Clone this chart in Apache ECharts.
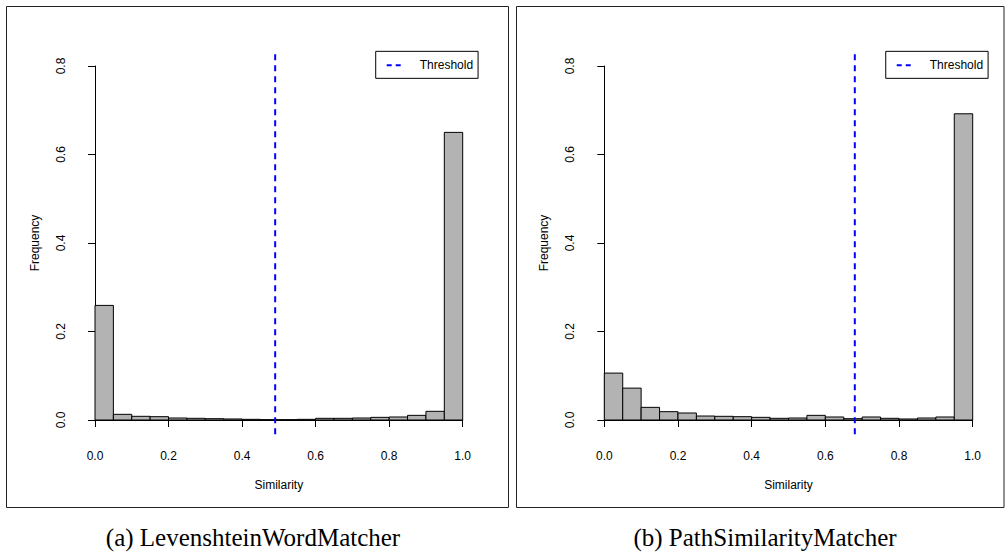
<!DOCTYPE html>
<html><head><meta charset="utf-8">
<script src="https://cdn.jsdelivr.net/npm/echarts@6/dist/echarts.min.js"></script>
<style>html,body{margin:0;padding:0;background:#fff}#c{width:1006px;height:553px}</style>
</head><body><div id="c"></div>
<script>
// Histogram bin edges (width 0.05)
const binEdges = [0.00,0.05,0.10,0.15,0.20,0.25,0.30,0.35,0.40,0.45,0.50,0.55,0.60,0.65,0.70,0.75,0.80,0.85,0.90,0.95,1.00];
// (a) LevenshteinWordMatcher relative frequencies
const levenshteinFreq = [0.259,0.0128,0.0083,0.0075,0.0045,0.0038,0.003,0.0023,0.0015,0.0008,0.0008,0.0015,0.0038,0.0038,0.0045,0.006,0.0068,0.0105,0.0196,0.650];
// (b) PathSimilarityMatcher relative frequencies
const pathSimFreq = [0.106,0.072,0.0286,0.0188,0.0158,0.009,0.0083,0.0075,0.006,0.0038,0.0045,0.0105,0.0068,0.003,0.0068,0.0038,0.0023,0.0045,0.0068,0.692];
// Threshold values
const thresholdA = 0.49;
const thresholdB = 0.68;
const captions = ['(a) LevenshteinWordMatcher', '(b) PathSimilarityMatcher'];
const xAxisName = 'Similarity';
const yAxisName = 'Frequency';
const legendName = 'Threshold';

function binData(freq) {
  return freq.map((v, i) => [binEdges[i], binEdges[i + 1], v]);
}

const chart = echarts.init(document.getElementById('c'), null, {renderer: 'svg'});
const FONT = '"Liberation Sans", Arial, Helvetica, sans-serif';
const txt = {color: '#000', fontFamily: FONT, fontSize: 12};

const panels = [
  {left: 95, width: 367.7, freq: levenshteinFreq, thr: thresholdA},
  {left: 604.3, width: 368.4, freq: pathSimFreq, thr: thresholdB}
];
const TOP = 66, H = 354;

const grids = [], xAxes = [], yAxes = [], series = [], legends = [];
panels.forEach((p, k) => {
  grids.push({left: p.left, top: TOP, width: p.width, height: H, containLabel: false});
  grids.push({left: p.left - 0.04 * p.width, top: TOP - 0.04 * H, width: p.width * 1.08, height: H * 1.08, containLabel: false});
  const gi = k * 2;
  xAxes.push({
    gridIndex: gi, type: 'value', min: 0, max: 1, interval: 0.2, position: 'bottom', offset: 14.5,
    axisLine: {lineStyle: {color: '#000', width: 1}},
    axisTick: {length: 7, lineStyle: {color: '#000'}},
    axisLabel: Object.assign({}, txt, {margin: 15, formatter: v => v.toFixed(1)}),
    splitLine: {show: false},
    name: xAxisName, nameLocation: 'middle', nameGap: 44, nameTextStyle: txt
  });
  xAxes.push({gridIndex: gi + 1, type: 'value', min: -0.04, max: 1.04, show: false});
  yAxes.push({
    gridIndex: gi, type: 'value', min: 0, max: 0.8, interval: 0.2, position: 'left', offset: 14.5,
    axisLine: {show: true, lineStyle: {color: '#000', width: 1}},
    axisTick: {show: true, length: 7, lineStyle: {color: '#000'}},
    axisLabel: Object.assign({}, txt, {rotate: 90, margin: 14, formatter: v => v.toFixed(1)}),
    splitLine: {show: false},
    name: yAxisName, nameLocation: 'middle', nameGap: 40, nameRotate: 90, nameTextStyle: txt
  });
  yAxes.push({gridIndex: gi + 1, type: 'value', min: 0, max: 1, show: false});

  series.push({
    type: 'custom', xAxisIndex: gi, yAxisIndex: gi, silent: true, animation: false,
    data: binData(p.freq),
    encode: {x: [0, 1], y: 2},
    renderItem: function (params, api) {
      const a = api.coord([api.value(0), api.value(2)]);
      const b = api.coord([api.value(1), 0]);
      return {type: 'rect', shape: {x: a[0], y: a[1], width: b[0] - a[0], height: b[1] - a[1]},
        style: {fill: '#b3b3b3', stroke: '#000', lineWidth: 1}};
    }
  });
  series.push({
    type: 'line', name: legendName, xAxisIndex: gi + 1, yAxisIndex: gi + 1, silent: true, animation: false,
    symbol: 'none', data: [[p.thr, 0], [p.thr, 1]],
    itemStyle: {color: '#0000ff'},
    lineStyle: {color: '#0000ff', width: 2, type: [6, 5]}
  });
  const plotRight = p.left + p.width * 1.04;
  legends.push({
    data: [legendName], left: plotRight - 101.7, top: TOP - 0.04 * H - 0.5,
    orient: 'horizontal', borderColor: '#000', borderWidth: 1, borderRadius: 0,
    padding: [8, 5, 7, 10], itemWidth: 18, itemHeight: 12, selectedMode: false,
    textStyle: Object.assign({}, txt, {padding: [0, 0, 0, 10]}),
    itemStyle: {opacity: 0, borderWidth: 0},
    lineStyle: {color: '#0000ff', width: 2, type: [5, 4]}
  });
});

const capFont = '25px "Liberation Serif", "DejaVu Serif", serif';
const option = {
  backgroundColor: '#fff',
  animation: false,
  grid: grids, xAxis: xAxes, yAxis: yAxes, series: series, legend: legends,
  graphic: [
    {type: 'rect', shape: {x: 6.5, y: 6.5, width: 502, height: 501}, style: {fill: 'none', stroke: '#222', lineWidth: 1}, silent: true},
    {type: 'rect', shape: {x: 516.5, y: 6.5, width: 487.5, height: 501}, style: {fill: 'none', stroke: '#222', lineWidth: 1}, silent: true},
    {type: 'text', x: 253, y: 537, style: {text: captions[0], font: capFont, fill: '#000', textAlign: 'center', textVerticalAlign: 'middle'}},
    {type: 'text', x: 765, y: 537, style: {text: captions[1], font: capFont, fill: '#000', textAlign: 'center', textVerticalAlign: 'middle'}}
  ]
};
chart.setOption(option);
</script>
</body></html>
